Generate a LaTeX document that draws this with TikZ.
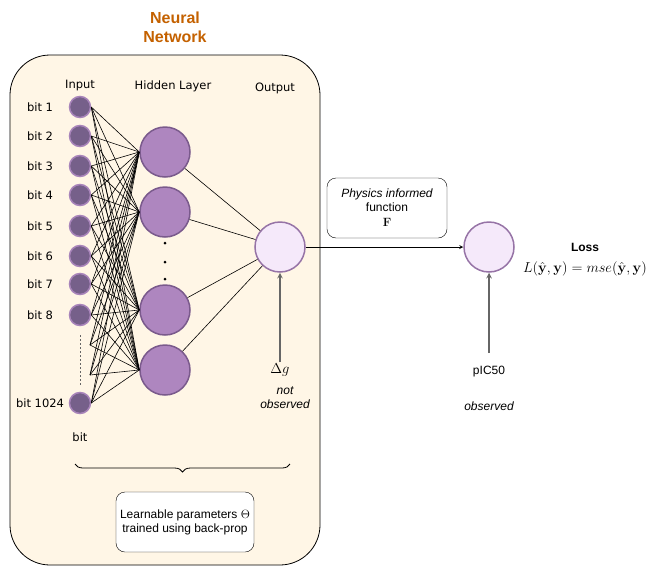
\documentclass[tikz,border=0pt]{standalone}
\usepackage[no-math]{fontspec}
\setmainfont{Liberation Sans}
\newfontfamily\verd{DejaVu Sans}
\usetikzlibrary{shapes,arrows,decorations.pathreplacing,backgrounds,positioning,fit}
\definecolor{nnorange}{HTML}{C46100}
\definecolor{nncream}{HTML}{FFF6E6}
\definecolor{infill}{HTML}{76608A}
\definecolor{inline}{HTML}{A884BA}
\definecolor{hidfill}{HTML}{AE86BF}
\definecolor{hidline}{HTML}{7A5A8C}
\definecolor{outfill}{HTML}{F5E9FA}
\definecolor{outline}{HTML}{9673A6}
\definecolor{arrgray}{HTML}{666666}

\begin{document}
\begin{tikzpicture}[x=1pt,y=-1pt]
			\tikzstyle{Input}	= [circle, draw=inline, line width=1.5pt, fill=infill, minimum size=21pt, inner sep=0pt]
			\tikzstyle{Hidden}	= [circle, draw=hidline, line width=1.5pt, fill=hidfill, minimum size=50pt, inner sep=0pt]
			\tikzstyle{Out}		= [circle, draw=outline, line width=1.5pt, fill=outfill, minimum size=50pt, inner sep=0pt]
			\tikzstyle{Bit}		= [font=\verd\fontsize{11.5}{13}\selectfont]
			\tikzstyle{Txt}		= [font=\fontsize{12}{14}\selectfont, align=center]
			\tikzstyle{Box}		= [draw, rounded corners=9pt, fill=white, minimum width=120pt, minimum height=60pt, Txt]
			\tikzstyle{Obs}		= [arrgray, line width=1.5pt, -stealth]
			
			\useasboundingbox (0,0) rectangle (646,571);
			
			% network frame
			\draw [fill=nncream, rounded corners=40pt, line width=0.8pt] (10,55) rectangle (320,565);
			\node (title) at (175,27) [font=\bfseries\fontsize{16}{19}\selectfont, text=nnorange, align=center] {Neural\\Network};
			
			\node (tin) at (80,86) [Bit] {Input};
			\node (thid) at (173,86) [Bit] {Hidden Layer};
			\node (tout) at (275,88) [Bit] {Output};
			
			% input layer
			\node (i1) at (80,107) [Input] {};
			\node (i2) at (80,136) [Input] {};
			\node (i3) at (80,166) [Input] {};
			\node (i4) at (80,195) [Input] {};
			\node (i5) at (80,226) [Input] {};
			\node (i6) at (80,256) [Input] {};
			\node (i7) at (80,284) [Input] {};
			\node (i8) at (80,315) [Input] {};
			\node (i9) at (80,403) [Input] {};
			\coordinate (p1) at (90,345);
			\coordinate (p2) at (90,375);
			
			\node (b1) at (40,107) [Bit] {bit 1};
			\node (b2) at (40,136) [Bit] {bit 2};
			\node (b3) at (40,166) [Bit] {bit 3};
			\node (b4) at (40,195) [Bit] {bit 4};
			\node (b5) at (40,226) [Bit] {bit 5};
			\node (b6) at (40,256) [Bit] {bit 6};
			\node (b7) at (40,284) [Bit] {bit 7};
			\node (b8) at (40,315) [Bit] {bit 8};
			\node (b9) at (40,403) [Bit] {bit 1024};
			\node (bit) at (80,437) [Bit] {bit};
			\draw [dash pattern=on 2pt off 2pt, line width=1pt, arrgray] (80,335) -- (80,385);
			
			% hidden layer
			\node (h1) at (165,152) [Hidden] {};
			\node (h2) at (165,212) [Hidden] {};
			\node (h3) at (165,310) [Hidden] {};
			\node (h4) at (165,370) [Hidden] {};
			\foreach \y in {243,262,279} \fill (165,\y) circle (1.5pt);
			
			\foreach \i in {i1,i2,i3,i4,i5,i6,i7,i8,i9}
				\foreach \h in {h1,h2,h3,h4}
					\draw [line width=0.6pt] (\i.east) -- (\h.west);
			\foreach \h in {h1,h2,h3,h4}
				\draw [line width=0.6pt] (p1) -- (\h.west) (p2) -- (\h.west);
			
			% output
			\node (out) at (280,247) [Out] {};
			\foreach \h in {h1,h2,h3,h4}
				\draw [line width=0.6pt] (\h) -- (out);
			\node (dg) at (280,370) [font=\fontsize{14}{16}\selectfont] {$\Delta g$};
			\node (nobs) at (285,398) [Txt] {\itshape not\\\itshape observed};
			\draw [Obs] ([yshift=-2pt]dg.north) -- (out.south);
			
			% right part
			\node (ic) at (489,247) [Out] {};
			\node (phys) at (387,208) [Box] {\itshape Physics informed\\function\\[1pt]\large$\mathbf{F}$};
			\draw [line width=0.8pt, -stealth] (out.east) -- (ic.west);
			\node (icl) at (489,372) [Txt] {pIC50};
			\node (obs) at (489,406) [Txt] {\itshape observed};
			\draw [Obs] ([yshift=10pt]icl.north) -- (ic.south);
			\node (loss) at (585,247) [Txt, font=\bfseries\fontsize{12}{14}\selectfont] {Loss};
			\node (lf) at (585,269) [font=\fontsize{14}{16}\selectfont, inner sep=0pt] {$L(\hat{\mathbf{y}},\mathbf{y}) = mse(\hat{\mathbf{y}},\mathbf{y})$};
			
			% parameters
			\coordinate (br1) at (75,464);
			\coordinate (br2) at (290,464);
			\draw [decorate, decoration={brace, mirror, amplitude=8pt}, line width=0.8pt] (br1) -- (br2);
			\node (par) at (185,522) [Box, minimum width=138pt] {Learnable parameters $\Theta$\\trained using back-prop};
		\end{tikzpicture}
\end{document}
